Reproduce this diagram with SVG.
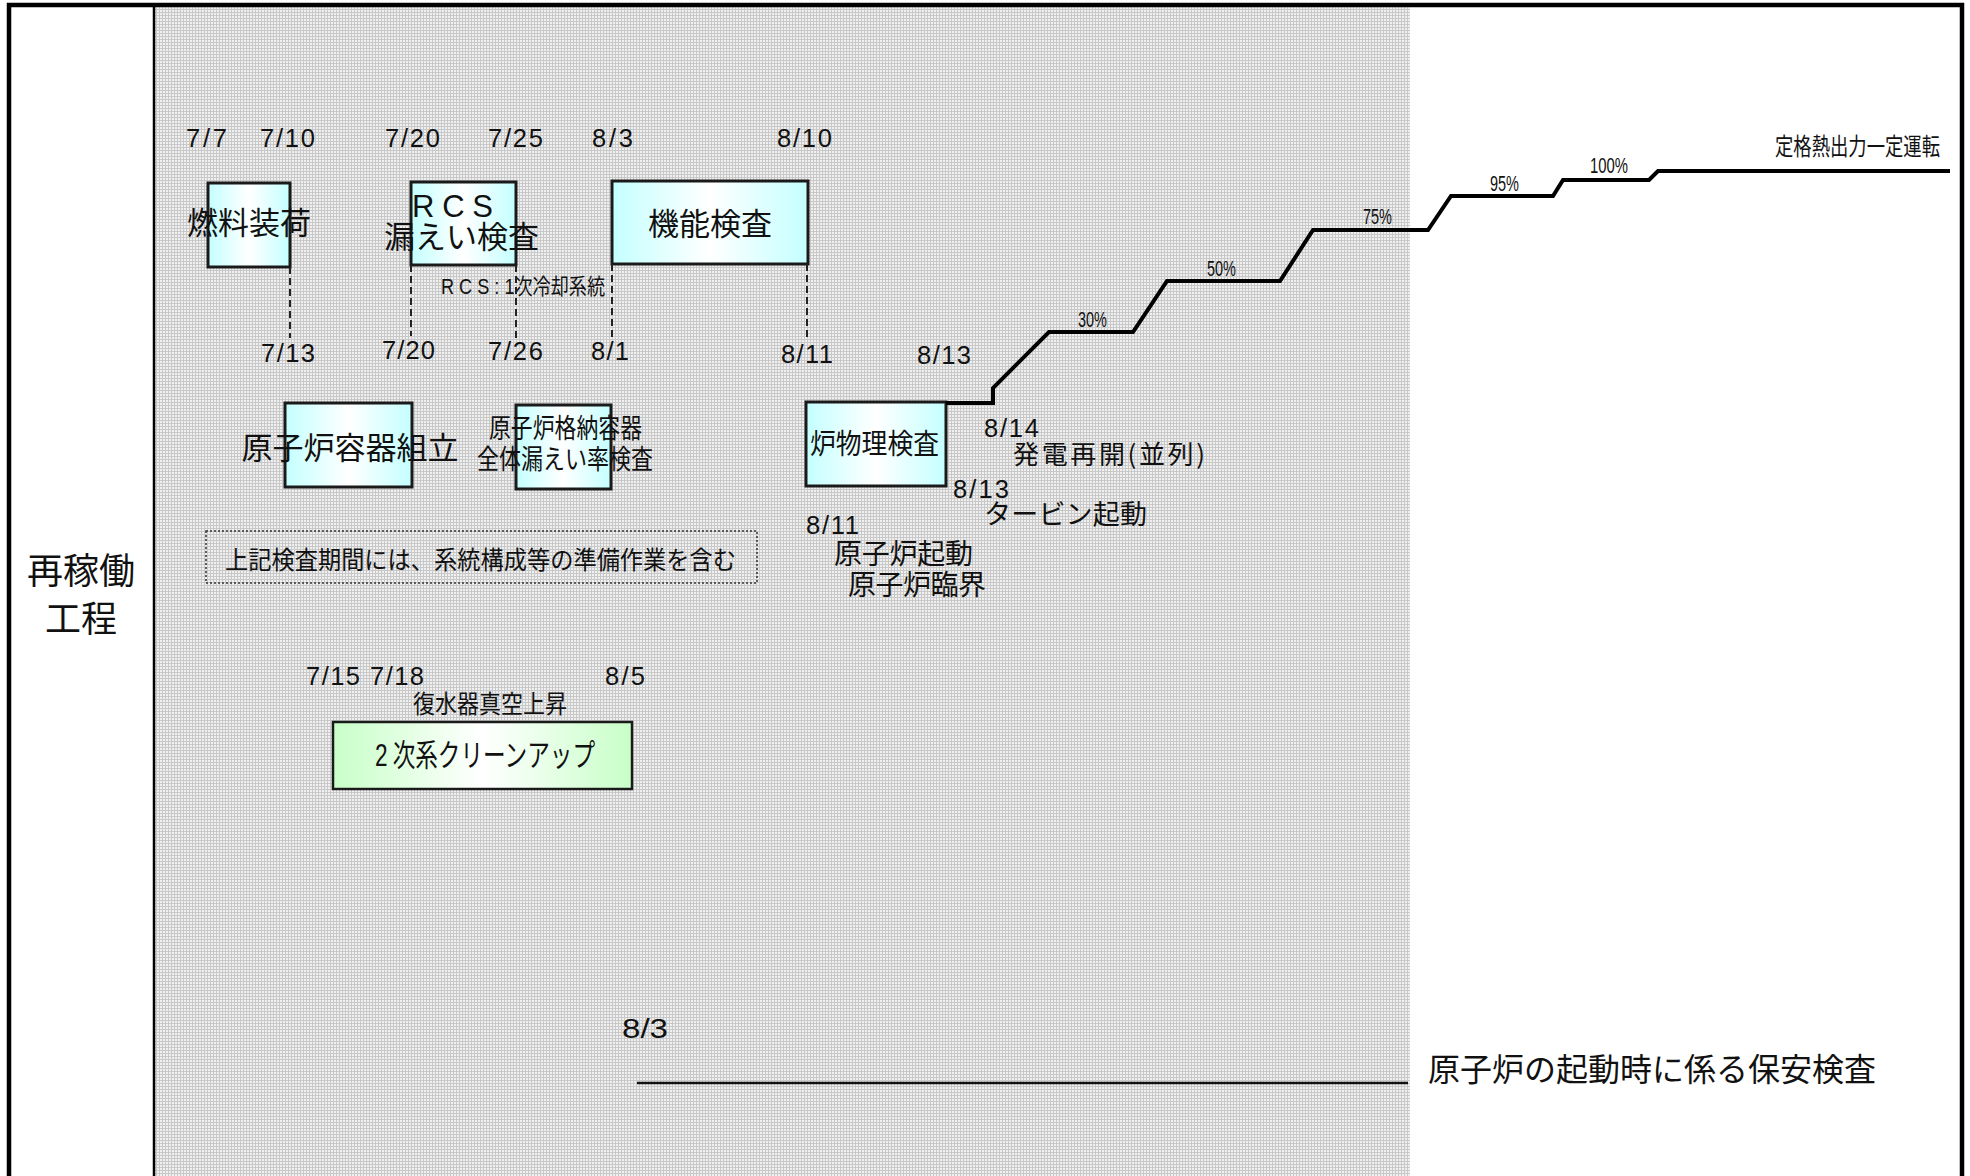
<svg xmlns="http://www.w3.org/2000/svg" width="1970" height="1176" viewBox="0 0 1970 1176">
<defs>
<pattern id="grid" width="3" height="3" patternUnits="userSpaceOnUse">
<rect width="3" height="3" fill="#f0f0f0"/>
<rect width="1" height="3" fill="#c8c8c8"/>
<rect width="3" height="1" fill="#c8c8c8"/>
</pattern>
<linearGradient id="cyan" x1="0" y1="0" x2="1" y2="0">
<stop offset="0" stop-color="#c4ffff"/>
<stop offset="0.5" stop-color="#ffffff"/>
<stop offset="1" stop-color="#c4ffff"/>
</linearGradient>
<linearGradient id="green" x1="0" y1="0" x2="1" y2="0">
<stop offset="0" stop-color="#c8ffc8"/>
<stop offset="0.5" stop-color="#ffffff"/>
<stop offset="1" stop-color="#c8ffc8"/>
</linearGradient>
</defs>
<style>
text{font-family:"Liberation Sans","Noto Sans CJK JP",sans-serif;fill:#111;}
.d{font-size:25.5px;}
.j{font-family:"Noto Sans CJK JP","Liberation Sans",sans-serif;}
.box{fill:url(#cyan);stroke:#1a1a1a;stroke-width:3;}
.gbox{fill:url(#green);stroke:#1a1a1a;stroke-width:2.5;}
.dash{stroke:#222;stroke-width:2;stroke-dasharray:7 4;fill:none;}
.pct{font-size:22px;}
</style>
<rect x="0" y="0" width="1970" height="1176" fill="#ffffff"/>
<rect x="154" y="5" width="1256" height="1171" fill="url(#grid)"/>
<rect x="9" y="5" width="1953" height="1190" fill="none" stroke="#000" stroke-width="4.5"/>
<line x1="154" y1="5" x2="154" y2="1176" stroke="#000" stroke-width="2.5"/>

<g id="row-label">
<text class="j" x="81" y="584" font-size="36" text-anchor="middle">再稼働</text>
<text class="j" x="81" y="632" font-size="36" text-anchor="middle">工程</text>
</g>

<g id="dates-top">
<text class="d" x="186" y="147" textLength="41">7/7</text>
<text class="d" x="260" y="147" textLength="55">7/10</text>
<text class="d" x="385" y="147" textLength="55">7/20</text>
<text class="d" x="488" y="147" textLength="55">7/25</text>
<text class="d" x="592" y="147" textLength="41">8/3</text>
<text class="d" x="777" y="147" textLength="55">8/10</text>
</g>
<g id="dates-bottom">
<text class="d" x="261" y="362" textLength="54">7/13</text>
<text class="d" x="382" y="359" textLength="53">7/20</text>
<text class="d" x="488" y="360" textLength="55">7/26</text>
<text class="d" x="591" y="360" textLength="38">8/1</text>
<text class="d" x="781" y="363" textLength="52">8/11</text>
<text class="d" x="917" y="364" textLength="54">8/13</text>
</g>

<g id="node-fuel">
<rect class="box" x="208" y="183" width="82" height="84"/>
<text class="j" x="249" y="234" font-size="31" text-anchor="middle">燃料装荷</text>
</g>
<g id="node-rcs">
<rect class="box" x="411" y="182" width="105" height="83"/>
<text x="412" y="217" font-size="31" textLength="81">R C S</text>
<text class="j" x="461.5" y="248" font-size="31" text-anchor="middle">漏えい検査</text>
</g>
<g id="note-rcs">
<text x="441" y="294" font-size="22" textLength="164" lengthAdjust="spacingAndGlyphs">R C S : 1次冷却系統</text>
</g>
<g id="node-func">
<rect class="box" x="612" y="181" width="196" height="83"/>
<text class="j" x="710" y="235" font-size="31" text-anchor="middle">機能検査</text>
</g>
<g id="node-vessel">
<rect class="box" x="285" y="403" width="127" height="84"/>
<text class="j" x="350" y="459" font-size="31" text-anchor="middle">原子炉容器組立</text>
</g>
<g id="node-containment">
<rect class="box" x="516" y="405" width="95" height="84"/>
<text class="j" x="489" y="438" font-size="27" textLength="153" lengthAdjust="spacingAndGlyphs">原子炉格納容器</text>
<text class="j" x="477" y="469" font-size="27" textLength="176" lengthAdjust="spacingAndGlyphs">全体漏えい率検査</text>
</g>
<g id="note-prep">
<rect x="206" y="531" width="551" height="52" fill="none" stroke="#333" stroke-width="1.5" stroke-dasharray="2 2"/>
<text class="j" x="225" y="569" font-size="25" textLength="511" lengthAdjust="spacingAndGlyphs">上記検査期間には、系統構成等の準備作業を含む</text>
</g>
<g id="node-physics">
<rect class="box" x="806" y="402" width="140" height="84"/>
<text class="j" x="810" y="454" font-size="28" textLength="129" lengthAdjust="spacingAndGlyphs">炉物理検査</text>
</g>
<g id="events">
<text class="d" x="984" y="437" textLength="55">8/14</text>
<text class="j" x="1013" y="464" font-size="26" textLength="192">発電再開(並列)</text>
<text class="d" x="953" y="498" textLength="56">8/13</text>
<text class="j" x="984" y="524" font-size="27" textLength="163">タービン起動</text>
<text class="d" x="806" y="534" textLength="53">8/11</text>
<text class="j" x="834" y="564" font-size="28" textLength="139">原子炉起動</text>
<text class="j" x="848" y="595" font-size="28" textLength="138">原子炉臨界</text>
</g>
<g id="node-cleanup">
<text class="d" x="306" y="685" textLength="118">7/15 7/18</text>
<text class="d" x="605" y="685" textLength="40">8/5</text>
<text class="j" x="413" y="713" font-size="25" textLength="154" lengthAdjust="spacingAndGlyphs">復水器真空上昇</text>
<rect class="gbox" x="333" y="722" width="299" height="67"/>
<text x="375" y="766" font-size="31" textLength="220" lengthAdjust="spacingAndGlyphs">2<tspan class="j"> 次系クリーンアップ</tspan></text>
</g>
<g id="power-labels">
<text class="pct" x="1078" y="327" textLength="29" lengthAdjust="spacingAndGlyphs">30%</text>
<text class="pct" x="1207" y="276" textLength="29" lengthAdjust="spacingAndGlyphs">50%</text>
<text class="pct" x="1363" y="224" textLength="29" lengthAdjust="spacingAndGlyphs">75%</text>
<text class="pct" x="1490" y="191" textLength="29" lengthAdjust="spacingAndGlyphs">95%</text>
<text class="pct" x="1590" y="173" textLength="38" lengthAdjust="spacingAndGlyphs">100%</text>
<text class="j" x="1775" y="155" font-size="24" textLength="165" lengthAdjust="spacingAndGlyphs">定格熱出力一定運転</text>
</g>
<g id="safety-inspection">
<text x="622" y="1038" font-size="28" textLength="46" lengthAdjust="spacingAndGlyphs">8/3</text>
<text class="j" x="1428" y="1081" font-size="32" textLength="448" lengthAdjust="spacingAndGlyphs">原子炉の起動時に係る保安検査</text>
</g>

<g id="connectors">
<line class="dash" x1="290" y1="267" x2="290" y2="338"/>
<line class="dash" x1="411" y1="265" x2="411" y2="336"/>
<line class="dash" x1="516" y1="265" x2="516" y2="338"/>
<line class="dash" x1="612" y1="264" x2="612" y2="338"/>
<line class="dash" x1="807" y1="264" x2="807" y2="338"/>
<polyline points="946,403 993,403 993,388 1049,332 1133,332 1167,281 1280,281 1313,230 1428,230 1451,196 1553,196 1563,180 1649,180 1658,171 1950,171" fill="none" stroke="#000" stroke-width="4"/>
<line x1="637" y1="1083" x2="1408" y2="1083" stroke="#111" stroke-width="2.5"/>
</g>
</svg>
